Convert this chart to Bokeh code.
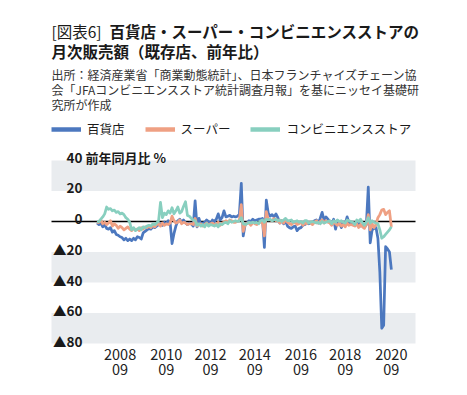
import numpy as np
from bokeh.plotting import figure
from bokeh.models import Range1d, Label, Legend, LegendItem
from bokeh.core.properties import value
from bokeh.embed import file_html
from bokeh.resources import INLINE

# ---------------- data (monthly, YoY %, 2007-12 .. 2020-09) ----------------
start_month = "2007-12"
dept = [-1.0,
        -2.0, -1.0, -3.5, -2.0, -4.5, -5.0, -4.0, -7.0, -6.0, -8.5, -9.0, -10.0,
        -10.5, -12.0, -11.0, -12.5, -11.5, -12.5, -11.0, -12.0, -10.0, -10.5, -11.5, -7.5,
        -6.5, -5.5, -4.5, -5.0, -3.5, -4.0, -3.0, -2.0, -1.5, -2.5, -0.5, -1.5,
        0.5, -0.5, -14.5, -8.0, -3.0, 0.5, 1.5, -0.5, 1.0, -1.0, -2.0, -1.0,
        -1.5, -3.0, 13.5, -3.5, 2.0, -2.0, -1.0, -0.5, 1.0, 0.0, -2.0, 1.0,
        0.0, 1.5, 5.0, 1.0, 2.5, 7.0, 3.0, 3.5, 4.0, 3.0, 3.5, 3.0,
        3.5, 4.5, 25.0, -9.5, -2.0, -1.0, 0.5, 0.0, 1.5, 0.5, 1.0, 1.5,
        1.5, 2.0, -17.0, 14.0, 5.5, 3.5, 4.5, 3.0, 5.0, 2.5, -1.0, 0.5,
        -1.5, 0.5, -3.0, -4.0, -4.5, -3.5, -3.0, -6.0, -4.5, -4.0, -2.5, -2.0,
        -1.0, -1.5, -1.0, -0.5, 0.5, 1.0, -1.0, 2.0, 6.0, 1.0, 3.0, 1.5,
        0.0, -1.5, 1.5, -5.0, 0.5, -0.5, -4.0, -0.5, -1.5, 3.0, -1.0, -1.0,
        -1.0, -2.5, -1.5, -1.0, -3.0, -2.5, -3.5, -2.0, 22.5, -14.0, -5.5, -4.5,
        -4.0, -11.0, -33.0, -70.0, -68.0, -16.5, -18.0, -20.0, -31.5]
supermarket = [-1.0,
        -0.5, 1.0, -1.5, -0.5, -2.0, -1.0, 0.5, -3.0, -1.5, -2.5, -4.5, -3.0,
        -4.0, -5.5, -4.5, -3.5, -5.0, -6.0, -4.5, -5.5, -5.0, -6.0, -4.0, -5.0,
        -3.5, -4.0, -3.0, -4.0, -2.5, -3.5, -2.0, -1.5, -3.0, -1.0, -2.5, -1.5,
        -2.0, -1.0, 3.5, 0.5, -1.0, -0.5, 1.0, -1.5, -0.5, -1.0, -2.0, -1.5,
        -1.5, -2.0, 2.0, -3.0, -2.0, -1.5, -3.0, -2.0, -1.0, -2.5, -1.5, -1.0,
        -2.0, -1.5, -0.5, -2.5, -1.0, -0.5, 0.5, -1.0, 1.0, 0.5, -0.5, -0.5,
        0.0, 1.0, 11.0, -6.5, -2.0, -1.0, -1.0, -2.5, -0.5, -1.5, -2.0, -1.0,
        -0.5, -0.5, -9.5, 6.5, 1.5, 1.0, 0.5, 2.0, 0.5, 1.0, -1.0, 0.5,
        -1.0, 1.5, -0.5, -1.5, -2.0, -1.0, -0.5, -2.0, -1.5, -0.5, -2.5, -1.0,
        -1.5, -0.5, -1.0, -2.0, -0.5, 0.5, -1.0, 0.0, 1.0, -1.0, 0.5, -0.5,
        -1.0, -2.5, -0.5, -1.5, -2.5, -1.0, -3.0, -2.0, -3.5, -1.0, -2.5, -2.0,
        -2.5, -3.0, -1.5, -4.0, -2.0, -3.5, -4.5, -2.0, 4.5, -5.5, -1.5, -4.0,
        -2.0, 2.5, 4.5, 7.5, 8.0, 4.5, 6.0, 7.0, -3.5]
cvs = [0.0,
        0.0, 1.5, 3.0, 5.0, 9.5, 8.0, 8.5, 7.0, 7.5, 6.0, 6.5, 5.0,
        5.5, 4.5, 2.5, 1.5, -0.5, -5.5, -4.0, -6.0, -5.0, -4.0, -5.5, -3.5,
        -4.0, -3.0, -2.5, -3.0, -1.5, -2.0, -1.0, 0.5, 12.5, 2.5, 5.5, 4.5,
        7.0, 5.5, 9.0, 5.0, 7.0, 9.5, 5.5, 6.5, 10.0, 13.0, 4.0, 3.5,
        2.0, 1.0, 0.5, -2.5, -1.5, -3.0, -2.0, -3.5, -1.5, -3.0, -2.0, -2.5,
        -3.0, -2.0, -3.5, -1.5, -2.0, -1.0, -0.5, -1.5, 0.5, -0.5, 0.0, 0.5,
        0.0, 0.5, 2.5, -1.5, -2.0, -1.5, -0.5, -1.0, -0.5, -1.0, -0.5, -1.5,
        0.5, 1.0, -0.5, 1.5, 1.0, 1.5, 0.5, 1.0, 1.5, 0.5, 1.0, 0.0,
        1.0, 2.0, 0.5, 0.5, 1.0, -0.5, 0.0, 0.5, -0.5, 0.0, -1.0, 0.5,
        0.5, -1.0, -0.5, 0.0, -0.5, -1.0, -0.5, -1.5, 0.0, -1.0, -0.5, 0.0,
        0.5, -1.5, 0.5, -0.5, 1.0, 0.0, 0.5, -0.5, -1.0, 1.0, 0.5, 0.0,
        -0.5, -2.0, 1.0, 0.0, 1.5, -1.0, -2.5, -0.5, 2.5, -1.0, 0.5, -0.5,
        -1.0, -1.5, -5.5, -11.0, -10.0, -8.5, -7.0, -5.5, -3.5]

series_names = ["百貨店", "スーパー", "コンビニエンスストア"]
tick_pos = [12, 36, 59, 82, 106, 129, 153]
tick_years = ["2008", "2010", "2012", "2014", "2016", "2018", "2020"]
tick_months = ["09", "09", "09", "09", "09", "09", "09"]
y_ticks = [40, 20, 0, -20, -40, -60, -80]
y_tick_labels = ["40", "20", "0", "▲20", "▲40", "▲60", "▲80"]
band_bottom = [20, -40, -80]
band_top = [40, -20, -60]

title_tag = "[図表6]"
title_1 = "百貨店・スーパー・コンビニエンスストアの"
title_2 = "月次販売額（既存店、前年比）"
source_lines = ["出所：経済産業省「商業動態統計」、日本フランチャイズチェーン協",
                "会「JFAコンビニエンスストア統計調査月報」を基にニッセイ基礎研",
                "究所が作成"]
unit_label = "前年同月比 %"

# ---------------- layout (canvas px) ----------------
FONT = "Noto Sans CJK JP"
COLORS = ["#4C78BF", "#EFA083", "#88CFBF"]
BAND = "#E9ECEF"

W, H = 459, 387
PA_L, PA_R = 51, 415          # plot-area left/right
PPM = 1.924                   # px per month
X_FIRST_PX = 96.5             # px of first month
PPV = 1.525                   # px per percentage point
ZERO_PX = 221                 # px of 0 %

X0 = (0 - X_FIRST_PX) / PPM
X1 = (W - X_FIRST_PX) / PPM
Y1 = (ZERO_PX - 0) / PPV
Y0 = (ZERO_PX - H) / PPV

def dx(px):
    return X0 + px * (X1 - X0) / W

def dy(py):
    return Y1 - py * (Y1 - Y0) / H

x = np.arange(len(dept))

p = figure(width=W, height=H, x_range=Range1d(X0, X1), y_range=Range1d(Y0, Y1),
           output_backend="svg", toolbar_location=None,
           min_border=0, min_border_left=0, min_border_right=0,
           min_border_top=0, min_border_bottom=0)
p.outline_line_color = None
p.grid.visible = False
p.axis.visible = False
p.background_fill_color = "white"
p.border_fill_color = "white"

p.quad(left=dx(PA_L), right=dx(PA_R), bottom=band_bottom, top=band_top,
       fill_color=BAND, line_color=None)
p.segment(x0=dx(PA_L), x1=dx(PA_R), y0=0, y1=0, line_color="black", line_width=1.5)

for ys, c in zip([dept, supermarket, cvs], COLORS):
    p.line(x, ys, line_color=c, line_width=2.75, line_join="round")

# legend swatches (renderers with no visible data, thicker lines)
swatches = [p.line(x=[float("nan")], y=[float("nan")], line_color=c, line_width=4.5)
            for c in COLORS]

# x tick labels (two rows)
p.text(x=tick_pos, y=[dy(353.5)] * len(tick_pos), text=tick_years, text_font=value(FONT),
       text_font_size="14.5px", text_align="center", text_baseline="middle", text_color="#222222")
p.text(x=tick_pos, y=[dy(368.5)] * len(tick_pos), text=tick_months, text_font=value(FONT),
       text_font_size="14.5px", text_align="center", text_baseline="middle", text_color="#222222")

def lab(text, px, py, size, bold=False, align="left", baseline="middle", color="#1a1a1a", y=None, yoff=0):
    p.add_layout(Label(x=dx(px), y=(dy(py) if y is None else y), text=text,
                       text_font=FONT, text_font_size=f"{size}px",
                       text_font_style="bold" if bold else "normal",
                       text_align=align, text_baseline=baseline, text_color=color,
                       y_offset=yoff))

# title
lab(title_tag, 51, 30, 15.5)
lab(title_1, 109, 30, 15.5, bold=True)
lab(title_2, 51, 50.5, 15.5, bold=True)
for k, s in enumerate(source_lines):
    lab(s, 51, 73.5 + 15 * k, 12, color="#333333")

# y tick labels inside the plot area
for v, t in zip(y_ticks, y_tick_labels):
    lab(t, 82, 0, 13.5, bold=True, align="right", baseline="alphabetic", y=v, yoff=3)
lab(unit_label, 85, 0, 13, bold=True, align="left", baseline="alphabetic", y=40, yoff=3)

legend = Legend(items=[LegendItem(label=n, renderers=[r]) for n, r in zip(series_names, swatches)],
                orientation="horizontal", location=(PA_L, H - 138),
                padding=0, margin=0, spacing=20, glyph_width=30, glyph_height=14,
                label_height=14, label_standoff=6, border_line_color=None,
                background_fill_alpha=0, label_text_font=FONT,
                label_text_font_size="12.5px", label_text_color="#1a1a1a")
p.add_layout(legend)

open("out.html", "w").write(file_html(p, INLINE))
